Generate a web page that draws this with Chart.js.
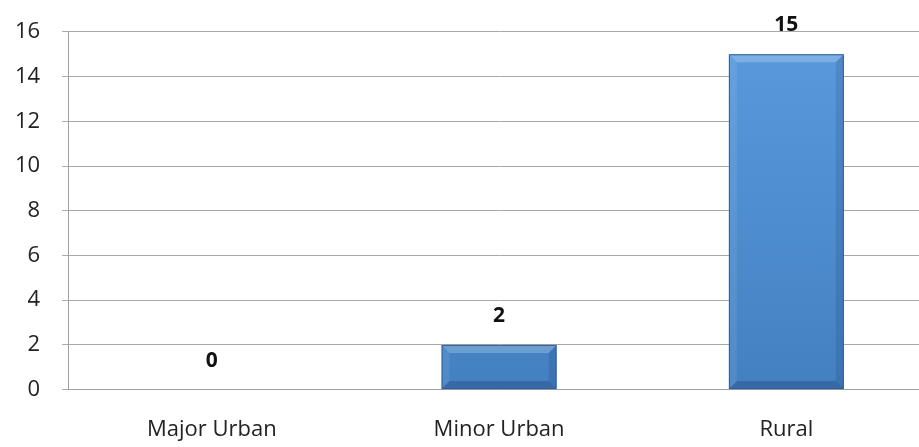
<!DOCTYPE html>
<html>
<head>
<meta charset="utf-8">
<script src="https://cdn.jsdelivr.net/npm/chart.js@4"></script>
<style>
  html, body { margin: 0; padding: 0; background: #fff; overflow: hidden; }
  #wrap { width: 930px; height: 447px; }
</style>
</head>
<body>
<div id="wrap"><canvas id="myBarChart"></canvas></div>
<script>
// values
var categories = ['Major Urban', 'Minor Urban', 'Rural'];
var counts = [0, 2, 15];
var yTicks = [0, 2, 4, 6, 8, 10, 12, 14, 16];

document.addEventListener("DOMContentLoaded", function () {
    var ctx = document.getElementById('myBarChart').getContext('2d');

    // bevelled blue fill like the Excel bar
    function barFill(context) {
        var chart = context.chart;
        var area = chart.chartArea;
        if (!area) return '#4F8FD6';
        var g = chart.ctx.createLinearGradient(0, area.top, 0, area.bottom);
        g.addColorStop(0, '#5A9BDD');
        g.addColorStop(1, '#4380C2');
        return g;
    }

    // numbers above the bars
    var valueLabels = {
        id: 'valueLabels',
        afterDatasetsDraw: function (chart) {
            var c = chart.ctx;
            var meta = chart.getDatasetMeta(0);
            c.save();
            c.font = 'bold 21px "Open Sans", sans-serif';
            c.fillStyle = '#111';
            c.textAlign = 'center';
            c.textBaseline = 'middle';
            meta.data.forEach(function (bar, i) {
                c.fillText(String(counts[i]), bar.x, bar.y - 29);
            });
            c.restore();
        }
    };

    // soft bevel edges on each bar
    var bevel = {
        id: 'bevel',
        afterDatasetsDraw: function (chart) {
            var c = chart.ctx;
            chart.getDatasetMeta(0).data.forEach(function (bar) {
                var h = bar.base - bar.y;
                if (h < 2) return;
                var l = bar.x - bar.width / 2, r = bar.x + bar.width / 2;
                var t = bar.y, b = bar.base, d = Math.min(8, h / 3);
                c.save();
                c.fillStyle = 'rgba(255,255,255,0.22)';
                c.beginPath();
                c.moveTo(l, t); c.lineTo(r, t); c.lineTo(r - d, t + d); c.lineTo(l + d, t + d);
                c.closePath(); c.fill();
                c.fillStyle = 'rgba(0,0,40,0.18)';
                c.beginPath();
                c.moveTo(l, b); c.lineTo(r, b); c.lineTo(r - d, b - d); c.lineTo(l + d, b - d);
                c.closePath(); c.fill();
                c.fillStyle = 'rgba(0,0,40,0.10)';
                c.beginPath();
                c.moveTo(r, t); c.lineTo(r, b); c.lineTo(r - d, b - d); c.lineTo(r - d, t + d);
                c.closePath(); c.fill();
                c.fillStyle = 'rgba(255,255,255,0.08)';
                c.beginPath();
                c.moveTo(l, t); c.lineTo(l, b); c.lineTo(l + d, b - d); c.lineTo(l + d, t + d);
                c.closePath(); c.fill();
                c.strokeStyle = '#2F5F96';
                c.lineWidth = 1;
                c.strokeRect(l + 0.5, t + 0.5, r - l - 1, b - t - 1);
                c.restore();
            });
        }
    };

    new Chart(ctx, {
        type: 'bar',
        data: {
            labels: categories,
            datasets: [{
                data: counts,
                backgroundColor: barFill,
                borderWidth: 0,
                barPercentage: 0.4,
                categoryPercentage: 1.0
            }]
        },
        options: {
            responsive: true,
            maintainAspectRatio: false,
            animation: false,
            layout: { padding: { top: 0, left: -7, right: 0, bottom: -23 } },
            plugins: {
                legend: { display: false },
                tooltip: { enabled: false }
            },
            scales: {
                x: {
                    grid: { display: false, drawTicks: false },
                    border: { color: '#A0A0A0', width: 1 },
                    ticks: {
                        color: '#222',
                        font: { family: '"Open Sans", sans-serif', size: 22 },
                        padding: 27
                    }
                },
                y: {
                    min: 0,
                    max: 16,
                    afterBuildTicks: function (axis) {
                        axis.ticks = yTicks.map(function (v) { return { value: v }; });
                    },
                    grid: { color: '#A8A8A8', lineWidth: 1, tickLength: 6 },
                    border: { color: '#A0A0A0', width: 1 },
                    ticks: {
                        color: '#222',
                        font: { family: '"Open Sans", sans-serif', size: 22, lineHeight: 0.9 },
                        padding: 22
                    }
                }
            }
        },
        plugins: [bevel, valueLabels]
    });
});
</script>
</body>
</html>
